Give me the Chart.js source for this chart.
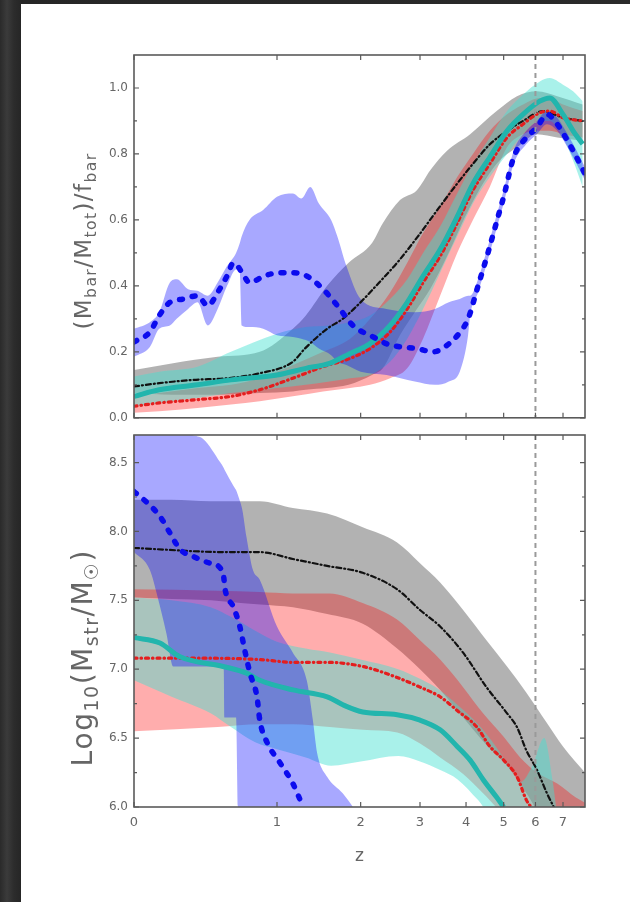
<!DOCTYPE html>
<html><head><meta charset="utf-8">
<script src="https://cdn.jsdelivr.net/npm/chart.js@4.4.1/dist/chart.umd.min.js"></script>
<style>
html,body{margin:0;padding:0;}
body{width:630px;height:902px;background:linear-gradient(to right,#2a2a2a 0,#3b3b3b 7px,#2c2c2c 14px,#262626 21px,#2a2a2a 100%);position:relative;overflow:hidden;}
#sheet{position:absolute;left:21px;top:4px;width:609px;height:898px;background:#fff;}
#c1{position:absolute;left:0;top:0;}
#c2{position:absolute;left:0;top:411px;}
</style></head><body>
<div id="sheet"></div>
<canvas id="c1" width="630" height="431"></canvas>
<canvas id="c2" width="630" height="491"></canvas>
<script>
// ---------- tick values ----------
const zTicks = [0, 1, 2, 3, 4, 5, 6, 7];
const zMarker = 6;
const fracTicks = [0.0, 0.2, 0.4, 0.6, 0.8, 1.0];
const fracMinor = [0.1, 0.3, 0.5, 0.7, 0.9];
const massTicks = [6.0, 6.5, 7.0, 7.5, 8.0, 8.5];
const massMinor = [6.25, 6.75, 7.25, 7.75, 8.25];

// ---------- top panel: baryon fraction ----------
const fracBlueZ = [0, 0.08, 0.13, 0.19, 0.27, 0.36, 0.43, 0.5, 0.57, 0.62, 0.69, 0.75, 0.88, 1.03, 1.16, 1.31, 1.5, 1.68, 1.89, 2.19, 2.41, 2.63, 2.94, 3.26, 3.56, 3.86, 4.05, 4.3, 4.56, 4.84, 5.0, 5.3, 5.7, 6.05, 6.4, 6.78, 7.1, 7.4, 7.9];
const fracBlue = [0.23, 0.26, 0.31, 0.35, 0.36, 0.37, 0.34, 0.38, 0.43, 0.47, 0.44, 0.41, 0.43, 0.44, 0.44, 0.43, 0.39, 0.34, 0.28, 0.245, 0.224, 0.215, 0.21, 0.20, 0.22, 0.26, 0.30, 0.40, 0.50, 0.61, 0.67, 0.79, 0.85, 0.88, 0.92, 0.89, 0.85, 0.81, 0.74];
const fracBlueBandZ = [0, 0.08, 0.13, 0.19, 0.23, 0.30, 0.36, 0.43, 0.5, 0.57, 0.64, 0.67, 0.685, 0.75, 0.87, 1.0, 1.16, 1.25, 1.35, 1.45, 1.6, 1.68, 1.8, 2.0, 2.4, 2.9, 3.3, 3.6, 3.85, 4.05, 4.1, 4.3, 4.56, 4.84, 5.0, 5.3, 5.7, 6.05, 6.4, 6.78, 7.1, 7.4, 7.9];
const fracBlueHi = [0.27, 0.29, 0.32, 0.41, 0.42, 0.39, 0.385, 0.37, 0.41, 0.46, 0.50, 0.53, 0.55, 0.60, 0.63, 0.67, 0.68, 0.665, 0.70, 0.65, 0.60, 0.55, 0.46, 0.36, 0.33, 0.32, 0.33, 0.35, 0.36, 0.37, 0.37, 0.42, 0.52, 0.63, 0.69, 0.81, 0.87, 0.90, 0.93, 0.91, 0.87, 0.83, 0.76];
const fracBlueLo = [0.185, 0.215, 0.27, 0.28, 0.30, 0.33, 0.35, 0.28, 0.33, 0.40, 0.45, 0.44, 0.28, 0.275, 0.27, 0.25, 0.245, 0.24, 0.23, 0.21, 0.19, 0.17, 0.16, 0.14, 0.13, 0.11, 0.10, 0.11, 0.14, 0.25, 0.31, 0.38, 0.48, 0.59, 0.65, 0.77, 0.83, 0.86, 0.89, 0.87, 0.83, 0.79, 0.72];

const fracBlackZ = [0, 0.13, 0.33, 0.57, 0.84, 1.16, 1.29, 1.55, 1.75, 1.95, 2.33, 2.58, 2.96, 3.35, 3.79, 4.17, 4.62, 5.1, 5.59, 6.26, 7.0, 7.8];
const fracBlack = [0.095, 0.105, 0.115, 0.12, 0.135, 0.17, 0.21, 0.27, 0.30, 0.34, 0.42, 0.47, 0.55, 0.63, 0.71, 0.77, 0.83, 0.87, 0.90, 0.93, 0.91, 0.90];
const fracGrayZ = [0, 0.2, 0.5, 0.84, 1.16, 1.3, 1.55, 1.83, 2.17, 2.34, 2.63, 2.94, 3.2, 3.56, 4.1, 4.8, 5.4, 6.05, 6.78, 7.8];
const fracGrayHi = [0.145, 0.165, 0.185, 0.20, 0.27, 0.31, 0.40, 0.47, 0.53, 0.59, 0.66, 0.69, 0.75, 0.81, 0.86, 0.93, 0.975, 0.99, 0.975, 0.95];
const fracGrayLo = [0.075, 0.07, 0.07, 0.075, 0.08, 0.085, 0.09, 0.10, 0.13, 0.15, 0.25, 0.33, 0.39, 0.49, 0.64, 0.77, 0.82, 0.86, 0.85, 0.84];

const fracCyanZ = [0, 0.13, 0.36, 0.6, 1.0, 1.3, 1.58, 1.85, 2.14, 2.46, 2.76, 3.06, 3.41, 3.79, 4.17, 4.61, 5.1, 5.59, 6.15, 6.5, 7.0, 7.4, 7.8];
const fracCyan = [0.065, 0.085, 0.10, 0.115, 0.13, 0.15, 0.165, 0.195, 0.225, 0.28, 0.35, 0.43, 0.51, 0.61, 0.71, 0.79, 0.87, 0.92, 0.96, 0.97, 0.92, 0.87, 0.83];
const fracCyanHi = [0.125, 0.14, 0.155, 0.20, 0.255, 0.275, 0.28, 0.29, 0.31, 0.36, 0.42, 0.50, 0.58, 0.68, 0.77, 0.85, 0.93, 0.98, 1.02, 1.03, 1.01, 0.99, 0.96];
const fracCyanLo = [0.035, 0.045, 0.06, 0.075, 0.09, 0.10, 0.11, 0.12, 0.13, 0.17, 0.24, 0.33, 0.44, 0.55, 0.65, 0.73, 0.80, 0.86, 0.90, 0.90, 0.85, 0.78, 0.70];

const fracRedZ = [0, 0.13, 0.36, 0.6, 0.84, 1.16, 1.5, 1.85, 2.14, 2.46, 2.76, 3.06, 3.41, 3.79, 4.17, 4.61, 5.1, 5.59, 6.15, 6.5, 7.0, 7.8];
const fracRed = [0.035, 0.045, 0.055, 0.065, 0.085, 0.12, 0.155, 0.18, 0.21, 0.26, 0.33, 0.41, 0.49, 0.59, 0.69, 0.77, 0.85, 0.89, 0.925, 0.93, 0.91, 0.90];
const fracRedHi = [0.065, 0.075, 0.09, 0.10, 0.12, 0.16, 0.20, 0.24, 0.30, 0.38, 0.47, 0.56, 0.64, 0.73, 0.80, 0.87, 0.92, 0.95, 0.97, 0.97, 0.95, 0.93];
const fracRedLo = [0.015, 0.02, 0.03, 0.04, 0.05, 0.065, 0.08, 0.09, 0.10, 0.12, 0.15, 0.24, 0.37, 0.50, 0.60, 0.70, 0.82, 0.86, 0.87, 0.87, 0.86, 0.85];

// ---------- bottom panel: log10 stellar mass ----------
const massBlueZ = [0, 0.065, 0.134, 0.19, 0.25, 0.33, 0.445, 0.54, 0.555, 0.62, 0.67, 0.71, 0.755, 0.815, 0.84, 0.905, 1.03, 1.16, 1.27];
const massBlue = [8.29, 8.21, 8.11, 7.99, 7.87, 7.82, 7.77, 7.70, 7.58, 7.45, 7.31, 7.14, 6.97, 6.80, 6.63, 6.47, 6.32, 6.17, 6.0];
const massBlueBandZ = [0, 0.08, 0.12, 0.17, 0.21, 0.3, 0.40, 0.52, 0.545, 0.55, 0.62, 0.64, 0.66, 0.69, 0.725, 0.78, 0.84, 1.0, 1.16, 1.31, 1.38, 1.43, 1.55, 1.75, 1.89, 2.0];
const massBlueHi = [8.9, 8.9, 8.9, 8.9, 8.9, 8.72, 8.67, 8.5, 8.46, 8.45, 8.33, 8.3, 8.25, 8.16, 7.96, 7.72, 7.65, 7.31, 7.12, 6.92, 6.63, 6.39, 6.22, 6.10, 6.0, 5.9];
const massBlueLo = [7.85, 7.72, 7.53, 7.26, 7.02, 7.02, 7.02, 7.02, 7.0, 6.65, 6.65, 6.65, 5.9, 5.9, 5.9, 5.9, 5.9, 5.9, 5.9, 5.9, 5.9, 5.9, 5.9, 5.9, 5.9, 5.9];

const massBlackZ = [0, 0.57, 0.84, 1.16, 1.55, 2.03, 2.58, 3.0, 3.41, 3.93, 4.52, 5.1, 5.4, 5.7, 6.05, 6.4, 6.65];
const massBlack = [7.88, 7.85, 7.85, 7.80, 7.75, 7.70, 7.58, 7.43, 7.31, 7.12, 6.87, 6.68, 6.58, 6.41, 6.27, 6.10, 6.0];
const massGrayZ = [0, 0.2, 0.45, 0.57, 0.84, 1.16, 1.55, 2.03, 2.58, 3.0, 3.41, 3.93, 4.52, 5.1, 5.7, 6.4, 7.0, 7.9];
const massGrayHi = [8.23, 8.23, 8.22, 8.22, 8.22, 8.17, 8.13, 8.03, 7.92, 7.77, 7.63, 7.43, 7.21, 7.02, 6.83, 6.61, 6.44, 6.25];
const massGrayLo = [7.52, 7.51, 7.50, 7.49, 7.47, 7.45, 7.40, 7.33, 7.15, 7.0, 6.85, 6.65, 6.45, 6.3, 6.1, 5.9, 5.9, 5.9];

const massRedZ = [0, 0.44, 0.84, 1.16, 1.55, 2.03, 2.58, 3.0, 3.41, 3.79, 4.27, 4.61, 5.0, 5.4, 5.7, 5.85];
const massRed = [7.08, 7.08, 7.07, 7.05, 7.05, 7.02, 6.94, 6.87, 6.80, 6.70, 6.58, 6.44, 6.34, 6.22, 6.05, 6.0];
const massRedBandZ = [0, 0.5, 0.84, 1.16, 1.58, 2.03, 2.58, 3.0, 3.41, 3.93, 4.43, 5.0, 5.5, 6.05, 6.78, 7.5, 7.9];
const massRedHi = [7.58, 7.57, 7.56, 7.55, 7.55, 7.48, 7.36, 7.21, 7.07, 6.87, 6.68, 6.51, 6.36, 6.25, 6.17, 6.07, 6.03];
const massRedLo = [6.55, 6.58, 6.6, 6.6, 6.58, 6.56, 6.54, 6.46, 6.36, 6.24, 6.1, 5.95, 5.9, 5.9, 5.9, 5.9, 5.9];

const massCyanZ = [0, 0.134, 0.25, 0.54, 0.73, 0.84, 1.16, 1.55, 1.8, 2.03, 2.58, 3.0, 3.41, 3.79, 4.1, 4.43, 4.8, 5.0];
const massCyan = [7.23, 7.19, 7.09, 7.02, 6.97, 6.92, 6.85, 6.80, 6.73, 6.69, 6.67, 6.63, 6.56, 6.44, 6.34, 6.20, 6.07, 6.0];
const massCyanBandZ = [0, 0.2, 0.45, 0.6, 0.8, 1.0, 1.3, 1.6, 2.0, 2.6, 3.0, 3.4, 3.8, 4.3, 4.8, 5.2, 5.5, 5.9, 6.3, 6.6, 6.8];
const massCyanHi = [7.52, 7.5, 7.45, 7.38, 7.28, 7.2, 7.15, 7.12, 7.07, 7.0, 6.93, 6.85, 6.74, 6.6, 6.43, 6.28, 6.18, 6.3, 6.5, 6.2, 5.9];
const massCyanLo = [6.92, 6.80, 6.68, 6.58, 6.47, 6.42, 6.36, 6.30, 6.33, 6.37, 6.33, 6.27, 6.2, 6.05, 5.9, 5.9, 5.9, 5.9, 5.9, 5.9, 5.9];

// ---------- styles ----------
const COL = {
  blue: '#0b0bee', cyan: '#22b5ad', red: '#e41e1e', black: '#111111',
  blueBand: 'rgba(0,0,255,0.34)', cyanBand: 'rgba(64,224,208,0.45)',
  redBand: 'rgba(255,0,0,0.32)', grayBand: 'rgba(0,0,0,0.3)',
  frame: '#5a5a5a', text: '#666666', marker: '#9a9a9a'
};
const FONT = '"DejaVu Sans", sans-serif';

const pts = (zs, vs) => zs.map((z, i) => ({ x: 1 + z, y: vs[i] }));
function lineDs(zs, vs, color, width, dash, order) {
  return { data: pts(zs, vs), borderColor: color, borderWidth: width, borderDash: dash,
    borderCapStyle: dash.length ? 'round' : 'butt', borderJoinStyle: 'round',
    pointRadius: 0, fill: false, order: order, cubicInterpolationMode: 'monotone' };
}
function bandDs(zs, hi, lo, color, order) {
  return [
    { data: pts(zs, hi), borderColor: 'rgba(0,0,0,0)', borderWidth: 0, pointRadius: 0,
      backgroundColor: color, fill: '+1', order: order, cubicInterpolationMode: 'monotone' },
    { data: pts(zs, lo), borderColor: 'rgba(0,0,0,0)', borderWidth: 0, pointRadius: 0,
      fill: false, order: order, cubicInterpolationMode: 'monotone' }
  ];
}

function drawRich(ctx, parts, cx, cy, size, target, maxSp, color) {
  const chars = parts.reduce((n, p) => n + p[0].length, 0);
  const measure = () => parts.reduce((t, p) => {
    ctx.font = (p[1] ? size * 0.68 : size) + 'px ' + FONT; return t + ctx.measureText(p[0]).width; }, 0);
  ctx.save();
  const natural = measure();
  const sp = Math.max(0, Math.min(maxSp, (target - natural) / chars));
  ctx.translate(cx, cy);
  ctx.rotate(-Math.PI / 2);
  ctx.fillStyle = color;
  ctx.textBaseline = 'middle';
  ctx.textAlign = 'left';
  let x = -(natural + sp * chars) / 2;
  parts.forEach(p => {
    ctx.font = (p[1] ? size * 0.68 : size) + 'px ' + FONT;
    for (const ch of p[0]) {
      ctx.fillText(ch, x, p[1] ? size * 0.3 : 0);
      x += ctx.measureText(ch).width + sp;
    }
  });
  ctx.restore();
}

function framePlugin(major, minor, title) {
  return {
    id: 'frame',
    afterDatasetsDraw(chart) {
      const ctx = chart.ctx, a = chart.chartArea, xs = chart.scales.x, ys = chart.scales.y;
      ctx.save();
      const mx = xs.getPixelForValue(1 + zMarker);
      ctx.strokeStyle = COL.marker; ctx.lineWidth = 2; ctx.setLineDash([5, 4]);
      ctx.beginPath(); ctx.moveTo(mx, a.top); ctx.lineTo(mx, a.bottom); ctx.stroke();
      ctx.setLineDash([]);
      ctx.strokeStyle = COL.frame; ctx.lineWidth = 1.6;
      ctx.strokeRect(a.left, a.top, a.right - a.left, a.bottom - a.top);
      ctx.lineWidth = 1.2;
      ctx.beginPath();
      zTicks.forEach(z => {
        const px = xs.getPixelForValue(1 + z);
        ctx.moveTo(px, a.bottom); ctx.lineTo(px, a.bottom - 5);
        ctx.moveTo(px, a.top); ctx.lineTo(px, a.top + 5);
      });
      major.forEach(v => {
        const py = ys.getPixelForValue(v);
        ctx.moveTo(a.left, py); ctx.lineTo(a.left + 5, py);
        ctx.moveTo(a.right, py); ctx.lineTo(a.right - 5, py);
      });
      minor.forEach(v => {
        const py = ys.getPixelForValue(v);
        ctx.moveTo(a.left, py); ctx.lineTo(a.left + 3, py);
        ctx.moveTo(a.right, py); ctx.lineTo(a.right - 3, py);
      });
      ctx.stroke();
      ctx.restore();
    },
    afterDraw(chart) {
      const ctx = chart.ctx, a = chart.chartArea;
      drawRich(ctx, title.parts, 85, title.cy, title.size, title.len, title.maxSp, COL.text);
      if (title.xlabel) {
        ctx.save();
        ctx.fillStyle = COL.text; ctx.font = '17px ' + FONT;
        ctx.textAlign = 'center'; ctx.textBaseline = 'middle';
        ctx.fillText(title.xlabel, (a.left + a.right) / 2, title.xy);
        ctx.restore();
      }
    }
  };
}

function makeChart(id, datasets, yMin, yMax, yTicks, minor, padding, showX, title) {
  return new Chart(document.getElementById(id), {
    type: 'line',
    data: { datasets: datasets },
    options: {
      responsive: false, animation: false, events: [],
      layout: { padding: padding },
      plugins: { legend: { display: false }, tooltip: { enabled: false } },
      scales: {
        x: {
          type: 'logarithmic', min: 1, max: 8.9, display: showX,
          afterBuildTicks: s => { s.ticks = zTicks.map(z => ({ value: 1 + z })); },
          ticks: { autoSkip: false, maxRotation: 0, padding: 8, color: COL.text,
            font: { family: FONT, size: 13 }, callback: v => String(Math.round(v - 1)) },
          grid: { display: false, drawTicks: false }, border: { display: false },
          afterFit: s => { s.height = showX ? 95 : 0; }
        },
        y: {
          type: 'linear', min: yMin, max: yMax,
          afterBuildTicks: s => { s.ticks = yTicks.map(v => ({ value: v })); },
          ticks: { padding: 6, color: COL.text, font: { family: FONT, size: 12 },
            callback: v => v.toFixed(1) },
          grid: { display: false, drawTicks: false }, border: { display: false },
          afterFit: s => { s.width = 134; }
        }
      }
    },
    plugins: [framePlugin(yTicks, minor, title)]
  });
}

const topSets = [
  lineDs(fracBlueZ, fracBlue, COL.blue, 5.5, [3, 10], 0),
  lineDs(fracCyanZ, fracCyan, COL.cyan, 5, [], 1),
  lineDs(fracRedZ, fracRed, COL.red, 3.2, [3, 4, 0.5, 4], 2),
  lineDs(fracBlackZ, fracBlack, COL.black, 2.2, [5, 3, 1, 3], 3),
  ...bandDs(fracBlueBandZ, fracBlueHi, fracBlueLo, COL.blueBand, 4),
  ...bandDs(fracCyanZ, fracCyanHi, fracCyanLo, COL.cyanBand, 5),
  ...bandDs(fracRedZ, fracRedHi, fracRedLo, COL.redBand, 6),
  ...bandDs(fracGrayZ, fracGrayHi, fracGrayLo, COL.grayBand, 7)
];
const bottomSets = [
  lineDs(massBlueZ, massBlue, COL.blue, 5.5, [3, 10], 0),
  lineDs(massCyanZ, massCyan, COL.cyan, 5, [], 1),
  lineDs(massRedZ, massRed, COL.red, 3.2, [3, 4, 0.5, 4], 2),
  lineDs(massBlackZ, massBlack, COL.black, 2.2, [5, 3, 1, 3], 3),
  ...bandDs(massBlueBandZ, massBlueHi, massBlueLo, COL.blueBand, 4),
  ...bandDs(massCyanBandZ, massCyanHi, massCyanLo, COL.cyanBand, 5),
  ...bandDs(massRedBandZ, massRedHi, massRedLo, COL.redBand, 6),
  ...bandDs(massGrayZ, massGrayHi, massGrayLo, COL.grayBand, 7)
];

makeChart('c1', topSets, 0, 1.1, fracTicks, fracMinor,
  { top: 55, right: 45, bottom: 4, left: 0 }, false,
  { parts: [['(M', 0], ['bar', 1], ['/M', 0], ['tot', 1], [')/f', 0], ['bar', 1]], cy: 241, size: 23, len: 177, maxSp: 1.5 });
makeChart('c2', bottomSets, 6.0, 8.7, massTicks, massMinor,
  { top: 24, right: 45, bottom: 0, left: 0 }, true,
  { parts: [['Log', 0], ['10', 1], ['(M', 0], ['str', 1], ['/M', 0], ['\u2609', 1], [')', 0]], cy: 247, size: 28, len: 240, maxSp: 1.5, xlabel: 'z', xy: 446 });
</script></body></html>
